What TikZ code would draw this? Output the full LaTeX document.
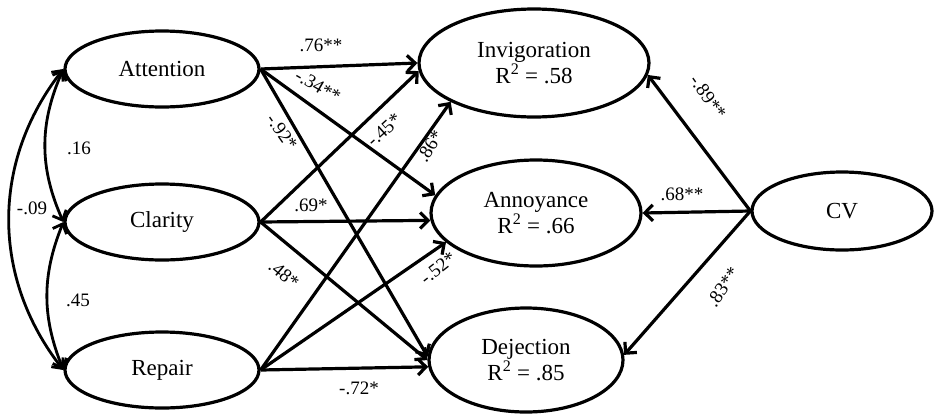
\documentclass[tikz,border=0pt]{standalone}
\usepackage{fontspec}
\setmainfont{Liberation Serif}
\usetikzlibrary{shapes.geometric,arrows.meta}
\begin{document}
\begin{tikzpicture}[x=1pt,y=-1pt,
  latent/.style={draw,ellipse,line width=3.2pt,inner sep=0pt,align=center,
    font=\fontsize{23}{26}\selectfont},
  arr/.style={line width=3.2pt,-{Straight Barb[length=8pt,width=16pt]}},
  cov/.style={line width=2.8pt,{Straight Barb[length=8pt,width=15pt]}-{Straight Barb[length=8pt,width=15pt]}},
  coef/.style={font=\fontsize{19}{22}\selectfont,inner sep=1pt}]
\useasboundingbox (0,0) rectangle (934,413);

% nodes
\node[latent,minimum width=194pt,minimum height=76pt] (att) at (162,69) {Attention};
\node[latent,minimum width=194pt,minimum height=76pt] (cla) at (162,222) {Clarity};
\node[latent,minimum width=194pt,minimum height=76pt] (rep) at (162,370) {Repair};
\node[latent,minimum width=230pt,minimum height=108pt] (inv) at (534,63) {Invigoration\\R\textsuperscript{2} = .58};
\node[latent,minimum width=210pt,minimum height=106pt] (ann) at (536,213) {Annoyance\\R\textsuperscript{2} = .66};
\node[latent,minimum width=194pt,minimum height=104pt] (dej) at (526,360) {Dejection\\R\textsuperscript{2} = .85};
\node[latent,minimum width=180pt,minimum height=78pt] (cv) at (842,211) {CV};

% covariances
\draw[cov] (att.west) to[bend right=24] (cla.west);
\draw[cov] (cla.west) to[bend right=22] (rep.west);
\draw[cov] (att.west) to[bend right=38] (rep.west);

% paths from predictors
\draw[arr] (att.east) -- (inv.west);
\draw[arr] (att.east) -- (ann.170);
\draw[arr] (att.east) -- (dej.178);
\draw[arr] (cla.east) -- (inv.184);
\draw[arr] (cla.east) -- (ann.184);
\draw[arr] (cla.east) -- (dej.180);
\draw[arr] (rep.east) -- (inv.205);
\draw[arr] (rep.east) -- (ann.198);
\draw[arr] (rep.east) -- (dej.184);

% paths from CV
\draw[arr] (cv.west) -- (inv.-6);
\draw[arr] (cv.west) -- (ann.east);
\draw[arr] (cv.west) -- (dej.3);

% coefficients
\node[coef] (c16) at (79,148) {.16};
\node[coef] (c45) at (78,300) {.45};
\node[coef] (c09) at (32,208) {-.09};
\node[coef] (c76) at (321,45) {.76**};
\node[coef,rotate=-30] (c34) at (318,86) {-.34**};
\node[coef,rotate=-55] (c92) at (282,132) {-.92*};
\node[coef,rotate=42] (c45b) at (384,130) {-.45*};
\node[coef,rotate=58] (c86) at (430,146) {.86*};
\node[coef] (c69) at (311,205) {.69*};
\node[coef,rotate=-40] (c48) at (284,274) {.48*};
\node[coef,rotate=38] (c52) at (438,268) {-.52*};
\node[coef] (c72) at (359,388) {-.72*};
\node[coef,rotate=-55] (c89) at (708,97) {-.89**};
\node[coef] (c68) at (682,194) {.68**};
\node[coef,rotate=55] (c83) at (723,287) {.83**};
\end{tikzpicture}
\end{document}
